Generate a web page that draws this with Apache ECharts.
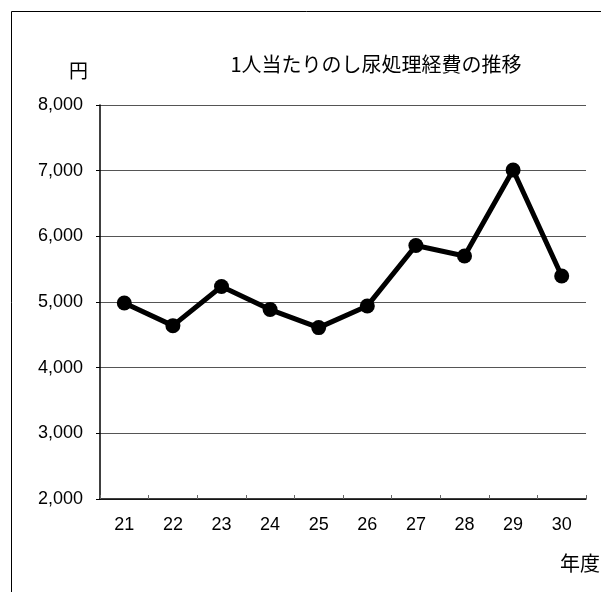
<!DOCTYPE html>
<html><head><meta charset="utf-8">
<script src="https://cdn.jsdelivr.net/npm/echarts@6/dist/echarts.min.js"></script>
<style>html,body{margin:0;padding:0;background:#fff}#c{width:601px;height:592px}</style>
</head><body><div id="c"></div>
<script>
const categories = ['21','22','23','24','25','26','27','28','29','30'];
const values = [4985, 4640, 5235, 4885, 4610, 4940, 5860, 5700, 7010, 5395];
const yTicks = [2000, 3000, 4000, 5000, 6000, 7000, 8000];
const titleText = '1人当たりのし尿処理経費の推移';
const yUnit = '円';
const xUnit = '年度';

const numFont = '"Liberation Sans",sans-serif';
const jpFont = '"Noto Sans CJK JP",sans-serif';
const chart = echarts.init(document.getElementById('c'));
chart.setOption({
  backgroundColor: '#fff',
  animation: false,
  graphic: [
    {type:'rect', shape:{x:11.5,y:11.5,width:610,height:600}, style:{fill:'none',stroke:'#000',lineWidth:1}, z:-1},
    {type:'text', left: 69, top: 61, style:{text:yUnit, font:'19px '+jpFont, fill:'#000'}},
    {type:'text', left: 560, top: 553, style:{text:xUnit, font:'20px '+jpFont, fill:'#000'}}
  ],
  title: {
    text: titleText, left: 371, top: 49, textAlign: 'center',
    textStyle: {fontFamily: jpFont, fontSize: 20, fontWeight: 'normal', color: '#000'}
  },
  grid: {left: 100, right: 15, top: 105, bottom: 93, containLabel: false},
  xAxis: {
    type: 'category', data: categories, boundaryGap: true,
    axisLine: {lineStyle: {color: '#000', width: 1.5}},
    axisTick: {show: true, inside: true, length: 4, lineStyle: {color: '#666'}},
    axisLabel: {margin: 17, fontFamily: numFont, fontSize: 18, color: '#000'}
  },
  yAxis: {
    type: 'value', min: yTicks[0], max: yTicks[yTicks.length-1], interval: 1000,
    axisLine: {show: true, lineStyle: {color: '#000', width: 1.5}},
    axisTick: {show: true, length: 4, lineStyle: {color: '#000'}},
    axisLabel: {margin: 17, fontFamily: numFont, fontSize: 18, color: '#000',
      formatter: v => v.toLocaleString('en-US')},
    splitLine: {show: true, lineStyle: {color: '#555', width: 1}}
  },
  series: [{
    type: 'line', data: values, symbol: 'circle', symbolSize: 15,
    lineStyle: {color: '#000', width: 5},
    itemStyle: {color: '#000'}
  }]
});
</script></body></html>
